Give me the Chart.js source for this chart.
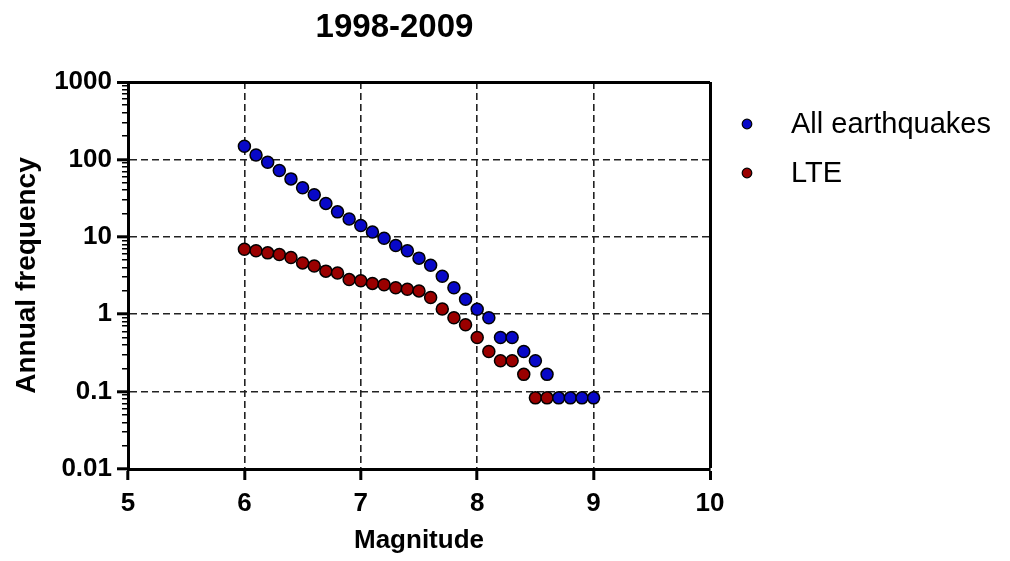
<!DOCTYPE html>
<html><head><meta charset="utf-8">
<script src="https://cdn.jsdelivr.net/npm/chart.js@4/dist/chart.umd.min.js"></script>
<style>html,body{margin:0;padding:0;background:#fff}#wrap{width:1010px;height:561px}</style>
</head><body><div id="wrap"><canvas id="c" width="1010" height="561"></canvas></div>
<script>
const titleText = '1998-2009';
const seriesNames = ['All earthquakes', 'LTE'];
const allMagnitude = [6.0,6.1,6.2,6.3,6.4,6.5,6.6,6.7,6.8,6.9,7.0,7.1,7.2,7.3,7.4,7.5,7.6,7.7,7.8,7.9,8.0,8.1,8.2,8.3,8.4,8.5,8.6,8.7,8.8,8.9,9.0];
const allFrequency = [148,114,92,72,56,43,35,27,21,17,14,11.5,9.6,7.7,6.6,5.3,4.3,3.1,2.2,1.56,1.16,0.9,0.5,0.5,0.33,0.25,0.167,0.083,0.083,0.083,0.083];
const lteMagnitude = [6.0,6.1,6.2,6.3,6.4,6.5,6.6,6.7,6.8,6.9,7.0,7.1,7.2,7.3,7.4,7.5,7.6,7.7,7.8,7.9,8.0,8.1,8.2,8.3,8.4,8.5,8.6];
const lteFrequency = [6.9,6.6,6.2,5.9,5.4,4.6,4.2,3.6,3.4,2.8,2.7,2.5,2.4,2.2,2.1,2.0,1.64,1.17,0.9,0.73,0.5,0.33,0.25,0.25,0.167,0.083,0.083];
const xTickValues = [5,6,7,8,9,10];
const xTickLabels = ['5','6','7','8','9','10'];
const yDecades = [0.01,0.1,1,10,100,1000];
const yTickLabels = ['0.01','0.1','1','10','100','1000'];
const minorMultipliers = [2,3,4,5,6,7,8,9];
const xTitle = 'Magnitude';
const yTitle = 'Annual frequency';

const BLUE = '#0808c8';
const RED = '#9a0000';
const colors = [BLUE, RED];
const FONT = '"Liberation Sans", Arial, sans-serif';
Chart.defaults.font.family = FONT;
Chart.defaults.color = '#000';

const yTickValues = [];
yDecades.forEach((d, i) => {
  yTickValues.push(d);
  if (i < yDecades.length - 1) minorMultipliers.forEach(m => yTickValues.push(d * m));
});
const majorIndex = v => yDecades.findIndex(d => Math.abs(v - d) / d < 1e-6);
const DASH = [7, 4];

const bgPlugin = {
  id: 'bg',
  beforeDraw(chart) {
    const c = chart.ctx; c.save(); c.fillStyle = '#fff'; c.fillRect(0, 0, chart.width, chart.height); c.restore();
  }
};
const titlePlugin = {
  id: 'ttl',
  afterDraw(chart) {
    const c = chart.ctx; c.save();
    c.font = 'bold 33px ' + FONT; c.fillStyle = '#000'; c.textAlign = 'center'; c.textBaseline = 'alphabetic';
    c.fillText(titleText, 394.5, 37);
    c.restore();
  }
};
const legendPlugin = {
  id: 'lgd',
  afterDraw(chart) {
    const c = chart.ctx; c.save();
    chart.data.datasets.forEach((ds, i) => {
      const y = 124 + i * 49;
      c.beginPath(); c.arc(747, y, 4.8, 0, Math.PI * 2);
      c.fillStyle = ds.backgroundColor; c.fill();
      c.lineWidth = 1.2; c.strokeStyle = '#000'; c.stroke();
      c.font = '29px ' + FONT; c.fillStyle = '#000'; c.textAlign = 'left'; c.textBaseline = 'middle';
      c.fillText(ds.label, 791, y + 1);
    });
    c.restore();
  }
};

const mk = (mags, vals) => mags.map((m, i) => ({x: m, y: vals[i]}));

new Chart(document.getElementById('c'), {
  type: 'scatter',
  data: {
    datasets: [
      {label: seriesNames[0], data: mk(allMagnitude, allFrequency), backgroundColor: colors[0], borderColor: '#000', borderWidth: 1.5, pointRadius: 6, pointHoverRadius: 6},
      {label: seriesNames[1], data: mk(lteMagnitude, lteFrequency), backgroundColor: colors[1], borderColor: '#000', borderWidth: 1.5, pointRadius: 6, pointHoverRadius: 6}
    ]
  },
  options: {
    responsive: false,
    animation: false,
    layout: {padding: {top: 82, right: 300, bottom: 0, left: 0}},
    plugins: {legend: {display: false}, title: {display: false}, tooltip: {enabled: false}},
    scales: {
      x: {
        type: 'linear', min: 5, max: 10,
        afterFit: s => { s.height = 92; },
        afterBuildTicks: s => { s.ticks = xTickValues.map(v => ({value: v})); },
        ticks: {padding: 8, maxRotation: 0, autoSkip: false, font: {size: 26, weight: 'bold'},
          callback: v => { const i = xTickValues.indexOf(v); return i >= 0 ? xTickLabels[i] : ''; }},
        grid: {
          color: c => (c.tick && c.tick.value === 5) ? 'rgba(0,0,0,0)' : (c.tick && c.tick.value === 10 ? '#000' : '#222'),
          lineWidth: c => (c.tick && c.tick.value === 10) ? 3 : 1.6,
          tickColor: '#000', tickWidth: 3, tickLength: 11, tickBorderDash: []
        },
        border: {display: true, color: '#000', width: 3, dash: c => (c.tick && c.tick.value === 10) ? [] : DASH},
        title: {display: true, text: xTitle, font: {size: 26, weight: 'bold'}, padding: {top: 0, bottom: 5}}
      },
      y: {
        type: 'logarithmic', min: 0.01, max: 1000,
        afterFit: s => { s.width = 128; },
        afterBuildTicks: s => { s.ticks = yTickValues.map(v => ({value: v, major: majorIndex(v) >= 0})); },
        ticks: {padding: 5, autoSkip: false, font: {size: 26, weight: 'bold'},
          callback: v => { const i = majorIndex(v); return i >= 0 ? yTickLabels[i] : ''; }},
        grid: {
          color: c => {
            if (!c.tick) return '#222';
            const i = majorIndex(c.tick.value);
            if (i < 0 || i === 0) return 'rgba(0,0,0,0)';
            return i === yDecades.length - 1 ? '#000' : '#222';
          },
          lineWidth: c => (c.tick && majorIndex(c.tick.value) === yDecades.length - 1) ? 3 : 1.6,
          tickColor: '#000',
          tickWidth: c => (c.tick && majorIndex(c.tick.value) >= 0) ? 3 : 1.5,
          tickLength: 11,
          tickBorderDash: c => (c.tick && majorIndex(c.tick.value) >= 0) ? [] : [0, 5, 6, 0]
        },
        border: {display: true, color: '#000', width: 3, dash: c => (c.tick && majorIndex(c.tick.value) === yDecades.length - 1) ? [] : DASH},
        title: {display: true, text: yTitle, font: {size: 28, weight: 'bold'}, padding: {top: 10, bottom: 0}}
      }
    }
  },
  plugins: [bgPlugin, titlePlugin, legendPlugin]
});
</script>
</body></html>
